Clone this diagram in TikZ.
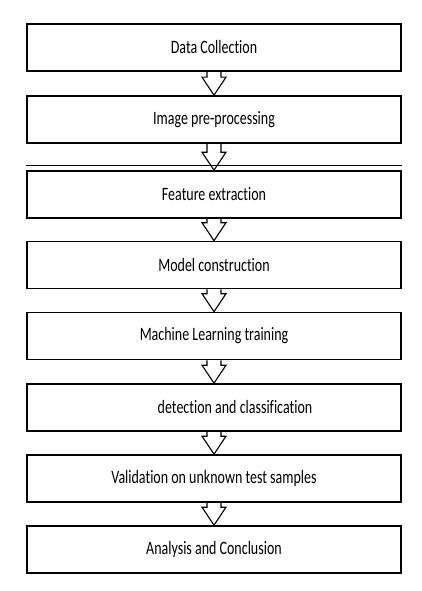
\documentclass[tikz,border=0pt]{standalone}
\usepackage{fontspec}
\usepackage{graphicx}
\setmainfont[Ligatures=NoCommon]{Carlito}
\usetikzlibrary{calc}
\newcommand{\tall}[1]{\scalebox{1}[1.35]{#1}}
\tikzset{
  stage/.style={draw, line width=1.6pt, minimum width=374pt, minimum height=47pt,
    inner sep=0pt, font=\fontsize{14}{17}\selectfont},
  blockarrow/.style={draw, line width=1.1pt, line join=miter}
}
\begin{document}
\begin{tikzpicture}[x=1pt,y=-1pt]
\useasboundingbox (0,0) rectangle (421,591);

\node[stage] (s1) at (214,47.5) {\tall{Data Collection}};
\node[stage] (s2) at (214,119.5) {\tall{Image pre-processing}};
\node[stage] (s3) at (214,194.5) {\tall{Feature extraction}};
\node[stage] (s4) at (214,265) {\tall{Model construction}};
\node[stage] (s5) at (214,336) {\tall{Machine Learning training}};
\node[stage] (s6) at (214,407.5) {\hspace*{42pt}\tall{detection and classification}};
\node[stage] (s7) at (214,478.5) {\tall{Validation on unknown test samples}};
\node[stage] (s8) at (214,549.5) {\tall{Analysis and Conclusion}};

\draw[line width=0.7pt] ($(s3.north west)+(0,5pt)$) -- ($(s3.north east)+(0,5pt)$);

\foreach \a/\b in {s1/s2,s2/s3,s3/s4,s4/s5,s5/s6,s6/s7,s7/s8}
  \draw[blockarrow] ($(\a.south)+(-7pt,0)$) -- ($(\b.north)+(-7pt,18pt)$)
    -- ($(\b.north)+(-12pt,18pt)$) -- (\b.north) -- ($(\b.north)+(12pt,18pt)$)
    -- ($(\b.north)+(7pt,18pt)$) -- ($(\a.south)+(7pt,0)$);
\end{tikzpicture}
\end{document}
